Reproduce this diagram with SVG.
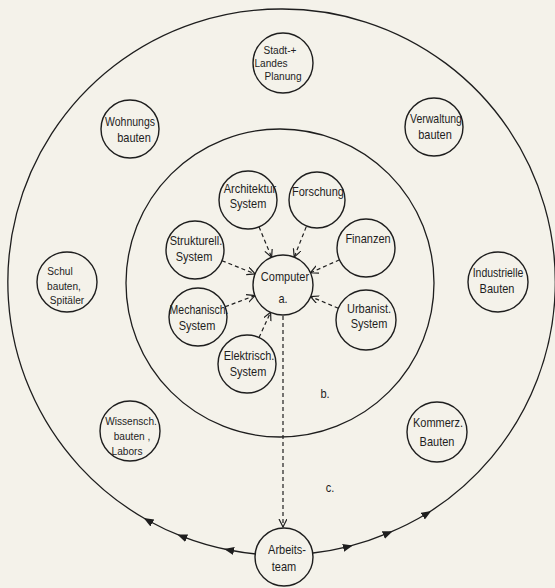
<svg xmlns="http://www.w3.org/2000/svg" width="555" height="588" viewBox="0 0 555 588">
<style>
.bg{fill:#f4f2ea}
.ring{fill:none;stroke:#1e1e1e;stroke-width:1.3}
.node circle{fill:#f4f2ea;stroke:#1e1e1e;stroke-width:1.4}
.node text,.lbl{font-family:"Liberation Sans",sans-serif;font-size:12.5px;fill:#1e1e1e;text-anchor:middle}
.node text.sm{font-size:11.5px}
.dash{fill:none;stroke:#1e1e1e;stroke-width:1.2;stroke-dasharray:4 3;marker-end:url(#open)}
.flow{fill:none;stroke:#1e1e1e;stroke-width:1.3;marker-mid:url(#solid)}
</style>
<defs>
<marker id="open" markerUnits="userSpaceOnUse" markerWidth="10" markerHeight="10" refX="8" refY="4" orient="auto" viewBox="0 0 10 10">
<path d="M0,0 L8,4 L0,8" fill="none" stroke="#1e1e1e" stroke-width="1.2"/>
</marker>
<marker id="solid" markerUnits="userSpaceOnUse" markerWidth="12" markerHeight="10" refX="5" refY="4" orient="auto" viewBox="0 0 12 10">
<path d="M0,0 L10,4 L0,8 z" fill="#1e1e1e"/>
</marker>
</defs>
<rect class="bg" x="0" y="0" width="555" height="588"/>
<circle class="ring" cx="280" cy="283" r="154"/>
<text class="lbl" transform="translate(325 398) scale(0.88 1)">b.</text>
<text class="lbl" transform="translate(330 492) scale(0.88 1)">c.</text>
<g id="connectors">
<path class="flow" d="M256,554 A273,273 0 0 1 229,550 A273,273 0 0 1 182,536.4 A273,273 0 0 1 148,520.5 A273,273 0 0 1 281,9"/>
<path class="flow" d="M313,553 A273,273 0 0 0 348,546.6 A273,273 0 0 0 388,533.1 A273,273 0 0 0 427,513.5 A273,273 0 0 0 281,9"/>
<path class="dash" d="M259,226.8 L271.6,257.2"/>
<path class="dash" d="M306.2,226.9 L294.2,257.1"/>
<path class="dash" d="M339.5,259.8 L310.4,272.8"/>
<path class="dash" d="M221.9,260.7 L255.1,273.9"/>
<path class="dash" d="M225.1,306.8 L254.9,295.6"/>
<path class="dash" d="M338.4,308.3 L310.6,296.6"/>
<path class="dash" d="M259,337.6 L270.6,312.3"/>
<path class="dash" d="M283,316 L283,527"/>
</g>
<g id="computer" class="node"><circle cx="283" cy="285" r="30"/><text transform="translate(285 281) scale(0.88 1)">Computer</text><text transform="translate(283 303) scale(0.88 1)">a.</text></g>
<g id="architektur" class="node"><circle cx="248" cy="200" r="29"/><text transform="translate(250 193) scale(0.88 1)">Architektur</text><text transform="translate(248 208) scale(0.88 1)">System</text></g>
<g id="forschung" class="node"><circle cx="317" cy="200" r="28"/><text transform="translate(318 196) scale(0.88 1)">Forschung</text></g>
<g id="finanzen" class="node"><circle cx="366" cy="248" r="29"/><text transform="translate(368 243) scale(0.88 1)">Finanzen</text></g>
<g id="strukturell" class="node"><circle cx="195" cy="250" r="29"/><text transform="translate(196 245) scale(0.88 1)">Strukturell.</text><text transform="translate(194 261) scale(0.88 1)">System</text></g>
<g id="mechanisch" class="node"><circle cx="198" cy="317" r="29"/><text transform="translate(199 314) scale(0.84 1)">Mechanisch.</text><text transform="translate(197 330) scale(0.88 1)">System</text></g>
<g id="urbanist" class="node"><circle cx="366" cy="320" r="30"/><text transform="translate(369 313) scale(0.88 1)">Urbanist.</text><text transform="translate(369 328) scale(0.88 1)">System</text></g>
<g id="elektrisch" class="node"><circle cx="247" cy="364" r="29"/><text transform="translate(249 360) scale(0.88 1)">Elektrisch.</text><text transform="translate(248 376) scale(0.88 1)">System</text></g>
<g id="stadt" class="node"><circle cx="283" cy="63" r="30"/><text class="sm" transform="translate(280 54) scale(0.88 1)">Stadt-+</text><text class="sm" transform="translate(271 67) scale(0.88 1)">Landes</text><text class="sm" transform="translate(283 80) scale(0.88 1)">Planung</text></g>
<g id="wohnungs" class="node"><circle cx="130" cy="129" r="29"/><text transform="translate(130 126) scale(0.84 1)">Wohnungs</text><text transform="translate(134 142) scale(0.88 1)">bauten</text></g>
<g id="verwaltung" class="node"><circle cx="434" cy="127" r="29"/><text transform="translate(436 123) scale(0.84 1)">Verwaltung</text><text transform="translate(435 139) scale(0.88 1)">bauten</text></g>
<g id="schul" class="node"><circle cx="67" cy="282" r="30"/><text class="sm" transform="translate(60 275) scale(0.88 1)">Schul</text><text class="sm" transform="translate(64 290) scale(0.88 1)">bauten,</text><text class="sm" transform="translate(67 304) scale(0.88 1)">Spitäler</text></g>
<g id="industrielle" class="node"><circle cx="498" cy="282" r="30"/><text transform="translate(498 277) scale(0.84 1)">Industrielle</text><text transform="translate(497 293) scale(0.88 1)">Bauten</text></g>
<g id="wissensch" class="node"><circle cx="130" cy="431" r="30"/><text class="sm" transform="translate(131 425) scale(0.88 1)">Wissensch.</text><text class="sm" transform="translate(132 440) scale(0.88 1)">bauten ,</text><text class="sm" transform="translate(127 455) scale(0.88 1)">Labors</text></g>
<g id="kommerz" class="node"><circle cx="437" cy="432" r="30"/><text transform="translate(438 427) scale(0.88 1)">Kommerz.</text><text transform="translate(437 446) scale(0.88 1)">Bauten</text></g>
<g id="arbeitsteam" class="node"><circle cx="284" cy="557" r="29"/><text transform="translate(287 554) scale(0.88 1)">Arbeits-</text><text transform="translate(284 571) scale(0.88 1)">team</text></g>
</svg>
